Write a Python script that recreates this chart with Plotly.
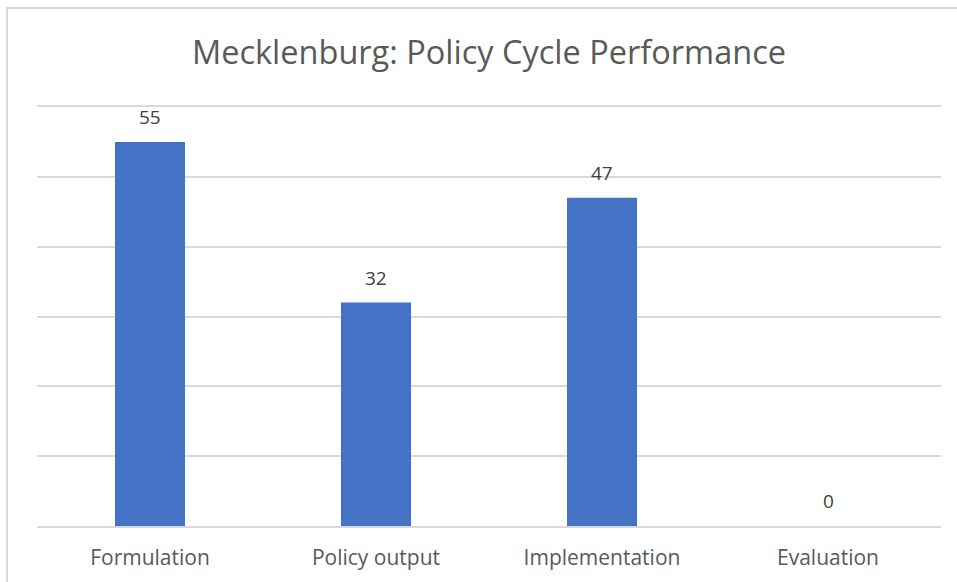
import plotly.graph_objects as go

categories = ["Formulation", "Policy output", "Implementation", "Evaluation"]
values = [55, 32, 47, 0]
title_text = "Mecklenburg: Policy Cycle Performance"

W, H = 957, 582
L, R, T, B = 37, 16, 107, 56
PW, PH = W - L - R, H - T - B

fig = go.Figure(
    go.Bar(
        x=categories,
        y=values,
        marker=dict(color="#4472C4", line=dict(width=0)),
        width=0.31,
        hoverinfo="x+y",
    )
)

annotations = [
    dict(
        x=c,
        y=v,
        xref="x",
        yref="y",
        text=str(v),
        showarrow=False,
        yanchor="middle",
        yshift=25,
        font=dict(family="Open Sans", size=19, color="#404040"),
    )
    for c, v in zip(categories, values)
]

fig.update_layout(
    width=W,
    height=H,
    margin=dict(l=L, r=R, t=T, b=B),
    paper_bgcolor="white",
    plot_bgcolor="white",
    showlegend=False,
    annotations=annotations,
    title=dict(
        text=title_text,
        x=0.5,
        xref="paper",
        xanchor="center",
        y=1 - 53 / H,
        yref="container",
        yanchor="middle",
        font=dict(family="Open Sans", size=32.5, color="#595959"),
    ),
    xaxis=dict(
        showgrid=False,
        showline=True,
        mirror=True,
        linecolor="#d9d9d9",
        linewidth=1.5,
        ticks="outside",
        ticklen=12,
        tickcolor="rgba(0,0,0,0)",
        tickfont=dict(family="Open Sans", size=21, color="#595959"),
    ),
    yaxis=dict(
        range=[0, 60],
        dtick=10,
        showgrid=True,
        gridcolor="#d9d9d9",
        gridwidth=1.5,
        zeroline=False,
        showticklabels=False,
    ),
    shapes=[
        dict(
            type="rect",
            xref="paper",
            yref="paper",
            x0=(7 - L) / PW,
            x1=2.0,
            y0=-1.0,
            y1=1 + (T - 8) / PH,
            line=dict(color="#d9d9d9", width=2),
            fillcolor="rgba(0,0,0,0)",
            layer="below",
        )
    ],
)

fig.write_html(
    "out.html",
    config={"displayModeBar": False},
    post_script="document.body.style.margin='0';document.body.style.overflow='hidden';document.documentElement.style.overflow='hidden';",
)
